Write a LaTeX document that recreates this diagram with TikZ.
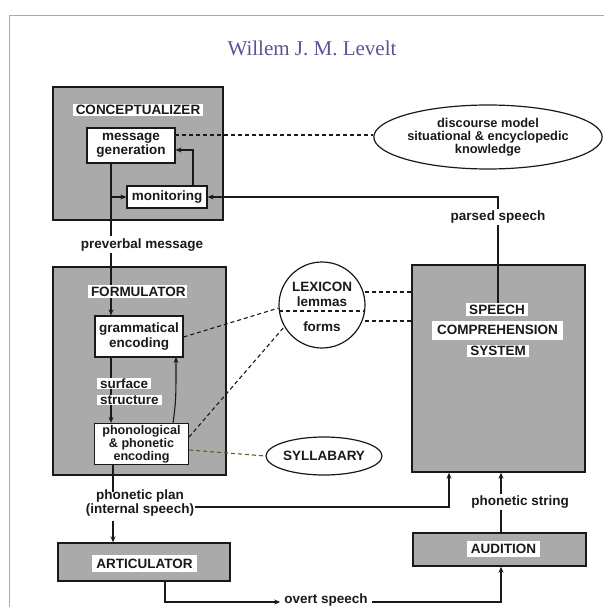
\documentclass[tikz,border=0pt]{standalone}
\usepackage{fontspec}
\setmainfont{Liberation Sans}
\newfontfamily\titlefont{Liberation Serif}
\usetikzlibrary{shapes.geometric,arrows.meta}
\definecolor{boxgray}{RGB}{170,170,170}
\definecolor{ink}{RGB}{25,25,25}
\definecolor{titleblue}{RGB}{85,85,150}
\definecolor{olive}{RGB}{90,100,30}
\definecolor{framegray}{RGB}{170,170,170}
\begin{document}
\begin{tikzpicture}[x=1pt,y=-1pt,
  txt/.style={font=\bfseries\fontsize{13.5}{14.5}\selectfont, text=ink, align=center},
  graybox/.style={draw=ink, line width=1.4pt, fill=boxgray, inner sep=0pt},
  whitebox/.style={txt, draw=ink, line width=1.2pt, fill=white, inner sep=0pt},
  lbl/.style={txt, fill=white, inner xsep=3pt, inner ysep=1.5pt},
  conn/.style={line width=1.1pt, draw=ink},
  arr/.style={conn, -{Stealth[length=6pt,width=5pt]}},
  dsh/.style={line width=1.1pt, draw=ink, dash pattern=on 4pt off 3pt},
]
\useasboundingbox (0,0) rectangle (604,607);
\draw[framegray, line width=0.8pt] (9,607) -- (9,15) -- (604,15);

\node[font=\titlefont\fontsize{21}{23}\selectfont, text=titleblue] (title) at (312,48) {Willem J. M. Levelt};

% gray boxes
\node[graybox, minimum width=170pt, minimum height=133pt] (concbox) at (138,153.5) {};
\node[graybox, minimum width=173pt, minimum height=208pt] (formbox) at (139.5,371) {};
\node[graybox, minimum width=173pt, minimum height=207pt] (speechbox) at (498.5,368.5) {};
\node[graybox, minimum width=172pt, minimum height=38pt] (artbox) at (144,562) {};
\node[graybox, minimum width=173pt, minimum height=33pt] (audbox) at (499.5,549.5) {};

% conceptualizer
\node[lbl, minimum width=130pt] (conclbl) at (138,110) {CONCEPTUALIZER};
\node[whitebox, minimum width=88pt, minimum height=35pt] (msg) at (131,145.5) {message\\generation};
\node[whitebox, minimum width=80pt, minimum height=22pt] (mon) at (167,197) {monitoring};

% discourse model
\node[ellipse, draw=ink, line width=1.2pt, minimum width=180pt, minimum height=64pt, inner sep=0pt, txt, font=\bfseries\fontsize{12.8}{12.8}\selectfont] (disc) at (488,137) {discourse model\\situational \& encyclopedic\\knowledge};

% formulator
\node[whitebox, minimum width=88pt, minimum height=41pt] (gram) at (139,336.5) {grammatical\\encoding};
\node[whitebox, minimum width=94pt, minimum height=41pt, font=\bfseries\fontsize{12.6}{11.5}\selectfont] (phon) at (141.5,444) {phonological\\\& phonetic\\encoding};

% lexicon
\node[circle, draw=ink, line width=1.2pt, minimum size=86pt, inner sep=0pt] (lex) at (322,305) {};
\node[txt, inner sep=0pt] (lextop) at (322,294.5) {LEXICON\\lemmas};
\node[txt, inner sep=0pt] (lexforms) at (322,327) {forms};
\coordinate (divL) at (279,311);
\coordinate (divR) at (365,311);

% syllabary
\node[ellipse, draw=ink, line width=1.2pt, minimum width=107pt, minimum height=38pt, inner sep=0pt, txt] (syll) at (324,456) {SYLLABARY};

% speech comprehension labels
\node[lbl, minimum width=62pt] (sp1) at (497,309.5) {SPEECH};
\node[lbl, minimum width=131pt, minimum height=19pt] (sp2) at (497.5,330) {COMPREHENSION};
\node[lbl, minimum width=62pt] (sp3) at (498,351) {SYSTEM};

% articulator / audition labels
\node[lbl, minimum width=105pt, minimum height=17pt] (artlbl) at (144.5,563.5) {ARTICULATOR};
\node[lbl, minimum width=73pt, minimum height=16pt] (audlbl) at (503.5,549) {AUDITION};

% connectors in conceptualizer & formulator
\coordinate (preTop) at (111,236);
\coordinate (branch) at (111,197);
\coordinate (monUp) at (193,150);
\draw[conn] (msg.south -| preTop) -- (preTop);
\draw[arr] (branch) -- (mon.west);
\draw[arr] (mon.north -| monUp) -- (monUp) -- (msg.east |- monUp);
\draw[dsh] (175,135) coordinate (msgE) -- (disc.west |- msgE);

\node[txt, inner sep=1pt] (pre) at (142,245) {preverbal message};
\draw[arr] (pre.south -| preTop) -- (gram.north -| preTop);
\node[lbl, minimum width=99pt, text width=93pt, align=left] (formlbl) at (137.5,291.5) {FORMULATOR};

\draw[arr] (gram.south -| preTop) -- (phon.north -| preTop);
\node[lbl, anchor=west, inner ysep=1pt] (surf) at (97,383.5) {surface};
\node[lbl, anchor=west, inner ysep=1pt] (struc) at (97,400) {structure};
\draw[arr] (173,423.5) .. controls (176,400) .. (176,357);

% lexicon connectors
\draw[dsh] (divL) -- (divR);
\draw[dsh] (gram.east |- 0,337) -- (lex.184);
\draw[dsh] (phon.east |- 0,437) -- (lex.210);
\draw[dsh] (365,292) -- (speechbox.west |- 0,292);
\draw[dsh] (365,321) -- (speechbox.west |- 0,321);
\draw[dsh, draw=olive] (phon.east |- 0,450) -- (syll.west);

% parsed speech
\coordinate (psTop) at (498,197);
\draw[arr] (sp1.north -| psTop) -- (psTop) -- (mon.east);
\node[txt, fill=white, inner sep=1.5pt] (parsed) at (498,217) {parsed speech};

% phonetic plan
\node[txt, font=\bfseries\fontsize{13.5}{12}\selectfont, fill=white, inner sep=1pt] (plan) at (140,503) {phonetic plan\\(internal speech)};
\draw[conn] (phon.south -| 113,0) -- (113,492);
\draw[arr] (113,521) -- (artbox.north -| 113,0);
\coordinate (planR) at (449,507);
\draw[arr] (plan.east |- planR) -- (planR) -- (speechbox.south -| planR);

% phonetic string
\coordinate (strX) at (501,520);
\draw[arr] (audbox.north -| strX) -- (speechbox.south -| strX);
\node[txt, fill=white, inner sep=1.5pt] (pstring) at (520,502) {phonetic string};

% overt speech
\node[txt, inner xsep=4pt, inner ysep=1pt] (overt) at (326,600) {overt speech};
\coordinate (ovL) at (165,602);
\coordinate (ovR) at (501,602);
\draw[arr] (artbox.south -| ovL) -- (ovL) -- (overt.west |- ovL);
\draw[arr] (overt.east |- ovR) -- (ovR) -- (audbox.south -| ovR);
\end{tikzpicture}
\end{document}
